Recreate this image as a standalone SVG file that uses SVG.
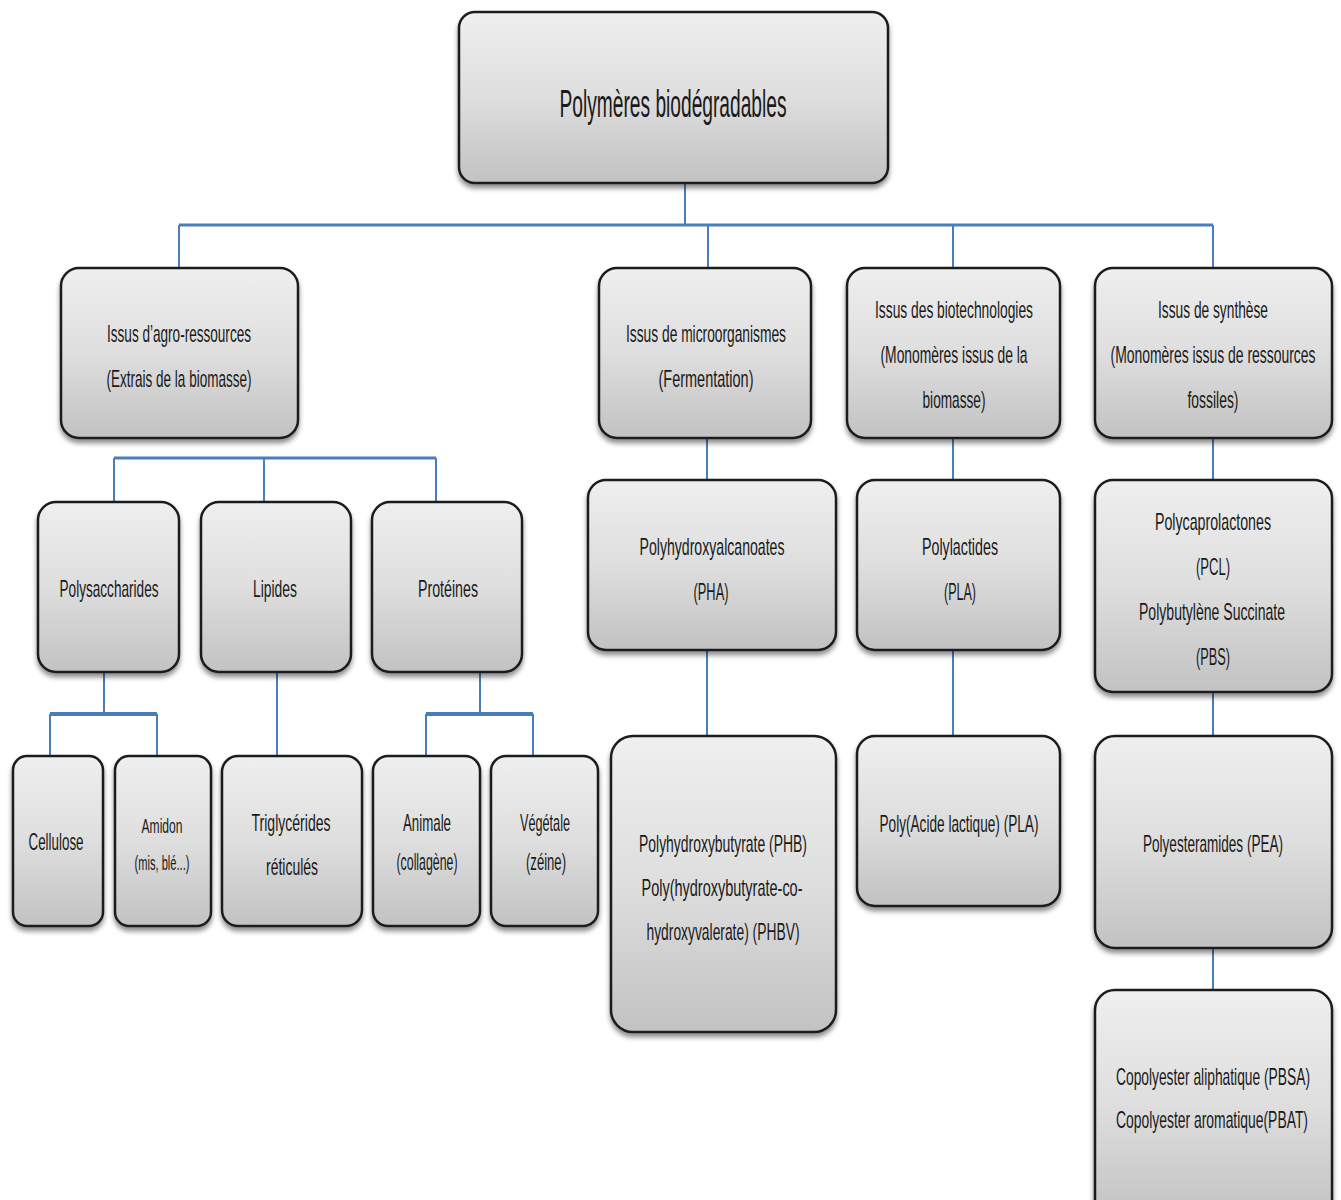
<svg xmlns="http://www.w3.org/2000/svg" width="1341" height="1200" viewBox="0 0 1341 1200">
<defs>
<linearGradient id="g" x1="0" y1="0" x2="0" y2="1">
<stop offset="0" stop-color="#efefef"/>
<stop offset="0.5" stop-color="#dedede"/>
<stop offset="1" stop-color="#c2c2c2"/>
</linearGradient>
<filter id="sh" x="-10%" y="-10%" width="120%" height="130%">
<feDropShadow dx="0" dy="4" stdDeviation="2.5" flood-color="#000" flood-opacity="0.45"/>
</filter>
</defs>
<style>
.box{fill:url(#g);stroke:#1e1e1e;stroke-width:2.5;filter:url(#sh)}
.t{font-family:"Liberation Sans",Arial,sans-serif;font-size:24px;fill:#1a1a1a;text-anchor:middle}
.s{font-size:20px}
.c{stroke:#4a7ebb;stroke-width:2;fill:none}
.h{stroke-width:3}
.hh{stroke-width:4}
</style>
<rect width="1341" height="1200" fill="#ffffff"/>
<g id="connectors">
<path class="c" d="M685 183V225"/>
<path class="c h" d="M179 225H1213"/>
<path class="c" d="M179 225V268M708 225V268M953 225V268M1213 225V268"/>
<path class="c h" d="M114 458H436"/>
<path class="c" d="M114 458V502M264 458V502M436 458V502"/>
<path class="c" d="M707 438V480M953 438V480M1213 438V480"/>
<path class="c" d="M104 672V714"/>
<path class="c hh" d="M50 714H157"/>
<path class="c" d="M50 714V756M157 714V756"/>
<path class="c" d="M277 672V756"/>
<path class="c" d="M480 672V714"/>
<path class="c hh" d="M426 714H533"/>
<path class="c" d="M426 714V756M533 714V756"/>
<path class="c" d="M707 650V736M953 650V736M1213 692V736M1213 948V990"/>
</g>
<g id="root"><rect class="box" x="459" y="12" width="429" height="171" rx="16"/>
<text class="t" x="673" y="117" textLength="227" lengthAdjust="spacingAndGlyphs" style="font-size:38px">Polymères biodégradables</text></g>
<g id="agro"><rect class="box" x="61" y="268" width="237" height="170" rx="18"/>
<text class="t" x="179" y="342" textLength="144" lengthAdjust="spacingAndGlyphs">Issus d’agro-ressources</text>
<text class="t" x="179" y="387" textLength="145" lengthAdjust="spacingAndGlyphs">(Extrais de la biomasse)</text></g>
<g id="micro"><rect class="box" x="599" y="268" width="212" height="170" rx="18"/>
<text class="t" x="706" y="342" textLength="160" lengthAdjust="spacingAndGlyphs">Issus de microorganismes</text>
<text class="t" x="706" y="387" textLength="95" lengthAdjust="spacingAndGlyphs">(Fermentation)</text></g>
<g id="biotech"><rect class="box" x="847" y="268" width="213" height="170" rx="18"/>
<text class="t" x="954" y="318" textLength="158" lengthAdjust="spacingAndGlyphs">Issus des biotechnologies</text>
<text class="t" x="954" y="363" textLength="147" lengthAdjust="spacingAndGlyphs">(Monomères issus de la</text>
<text class="t" x="954" y="408" textLength="63" lengthAdjust="spacingAndGlyphs">biomasse)</text></g>
<g id="synth"><rect class="box" x="1095" y="268" width="237" height="170" rx="18"/>
<text class="t" x="1213" y="318" textLength="110" lengthAdjust="spacingAndGlyphs">Issus de synthèse</text>
<text class="t" x="1213" y="363" textLength="205" lengthAdjust="spacingAndGlyphs">(Monomères issus de ressources</text>
<text class="t" x="1213" y="408" textLength="51" lengthAdjust="spacingAndGlyphs">fossiles)</text></g>
<g id="polysacch"><rect class="box" x="38" y="502" width="141" height="170" rx="18"/>
<text class="t" x="109" y="597" textLength="99" lengthAdjust="spacingAndGlyphs">Polysaccharides</text></g>
<g id="lipides"><rect class="box" x="201" y="502" width="150" height="170" rx="18"/>
<text class="t" x="275" y="597" textLength="44" lengthAdjust="spacingAndGlyphs">Lipides</text></g>
<g id="proteines"><rect class="box" x="372" y="502" width="150" height="170" rx="18"/>
<text class="t" x="448" y="597" textLength="60" lengthAdjust="spacingAndGlyphs">Protéines</text></g>
<g id="pha"><rect class="box" x="588" y="480" width="248" height="170" rx="18"/>
<text class="t" x="712" y="555" textLength="145" lengthAdjust="spacingAndGlyphs">Polyhydroxyalcanoates</text>
<text class="t" x="711" y="600" textLength="35" lengthAdjust="spacingAndGlyphs">(PHA)</text></g>
<g id="pla"><rect class="box" x="857" y="480" width="203" height="170" rx="18"/>
<text class="t" x="960" y="555" textLength="76" lengthAdjust="spacingAndGlyphs">Polylactides</text>
<text class="t" x="960" y="600" textLength="32" lengthAdjust="spacingAndGlyphs">(PLA)</text></g>
<g id="pcl"><rect class="box" x="1095" y="480" width="237" height="212" rx="18"/>
<text class="t" x="1213" y="530" textLength="116" lengthAdjust="spacingAndGlyphs">Polycaprolactones</text>
<text class="t" x="1213" y="575" textLength="34" lengthAdjust="spacingAndGlyphs">(PCL)</text>
<text class="t" x="1212" y="620" textLength="146" lengthAdjust="spacingAndGlyphs">Polybutylène Succinate</text>
<text class="t" x="1213" y="665" textLength="34" lengthAdjust="spacingAndGlyphs">(PBS)</text></g>
<g id="cellulose"><rect class="box" x="13" y="756" width="90" height="170" rx="14"/>
<text class="t" x="56" y="850" textLength="55" lengthAdjust="spacingAndGlyphs">Cellulose</text></g>
<g id="amidon"><rect class="box" x="115" y="756" width="96" height="170" rx="14"/>
<text class="t s" x="162" y="833" textLength="41" lengthAdjust="spacingAndGlyphs">Amidon</text>
<text class="t s" x="162" y="870" textLength="55" lengthAdjust="spacingAndGlyphs">(mis, blé...)</text></g>
<g id="triglycerides"><rect class="box" x="222" y="756" width="140" height="170" rx="16"/>
<text class="t" x="291" y="831" textLength="79" lengthAdjust="spacingAndGlyphs">Triglycérides</text>
<text class="t" x="292" y="875" textLength="52" lengthAdjust="spacingAndGlyphs">réticulés</text></g>
<g id="animale"><rect class="box" x="373" y="756" width="107" height="170" rx="15"/>
<text class="t" x="427" y="831" textLength="48" lengthAdjust="spacingAndGlyphs">Animale</text>
<text class="t" x="427" y="870" textLength="61" lengthAdjust="spacingAndGlyphs">(collagène)</text></g>
<g id="vegetale"><rect class="box" x="491" y="756" width="107" height="170" rx="15"/>
<text class="t" x="545" y="831" textLength="50" lengthAdjust="spacingAndGlyphs">Végétale</text>
<text class="t" x="546" y="870" textLength="40" lengthAdjust="spacingAndGlyphs">(zéine)</text></g>
<g id="phb"><rect class="box" x="611" y="736" width="225" height="296" rx="22"/>
<text class="t" x="723" y="852" textLength="168" lengthAdjust="spacingAndGlyphs">Polyhydroxybutyrate (PHB)</text>
<text class="t" x="722" y="896" textLength="161" lengthAdjust="spacingAndGlyphs">Poly(hydroxybutyrate-co-</text>
<text class="t" x="723" y="940" textLength="153" lengthAdjust="spacingAndGlyphs">hydroxyvalerate) (PHBV)</text></g>
<g id="pla2"><rect class="box" x="857" y="736" width="203" height="170" rx="18"/>
<text class="t" x="959" y="832" textLength="159" lengthAdjust="spacingAndGlyphs">Poly(Acide lactique) (PLA)</text></g>
<g id="pea"><rect class="box" x="1095" y="736" width="237" height="212" rx="20"/>
<text class="t" x="1213" y="852" textLength="140" lengthAdjust="spacingAndGlyphs">Polyesteramides (PEA)</text></g>
<g id="copolyester"><rect class="box" x="1095" y="990" width="237" height="230" rx="20"/>
<text class="t" x="1213" y="1085" textLength="194" lengthAdjust="spacingAndGlyphs">Copolyester aliphatique (PBSA)</text>
<text class="t" x="1212" y="1128" textLength="192" lengthAdjust="spacingAndGlyphs">Copolyester aromatique(PBAT)</text></g>
</svg>
